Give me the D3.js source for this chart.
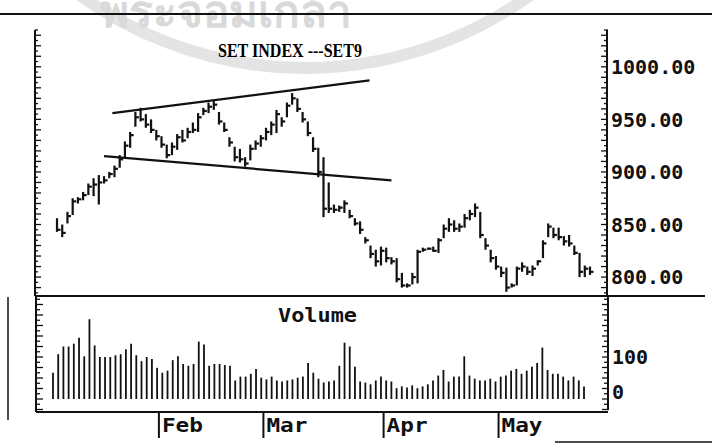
<!DOCTYPE html>
<meta charset="utf-8">
<head>
    <script type="text/javascript" src="https://cdn.jsdelivr.net/npm/d3@7"></script>
    <style>
        body { margin: 0; background: #fff; }
        .mono { font-family: "DejaVu Sans Mono", monospace; font-weight: bold; fill: #111; }
    </style>
    <title>SET INDEX ---SET9</title>
</head>
<body>
<script type="text/javascript">

    // daily bars, Jan..May
    var highs = [856,850,862,875,876,881,889,894,897,896,
                 900,906,916,929,938,957,961,955,950,940,
                 934,926,928,936,940,942,947,956,961,966,
                 968,957,947,933,924,922,914,926,930,935,
                 942,948,959,952,966,975,970,957,948,933,
                 923,914,890,869,868,873,864,856,853,838,
                 830,826,829,828,819,818,804,794,804,826,
                 828,828,829,837,850,856,854,851,860,864,
                 870,862,837,826,820,810,809,794,810,814,
                 810,811,816,835,851,847,847,839,840,830,
                 823,811,810];
    var lows = [843,838,851,859,870,873,878,877,869,889,
                894,895,904,914,923,943,948,942,937,930,
                923,913,916,921,928,932,937,938,954,956,
                959,945,938,924,910,909,905,911,921,924,
                930,935,937,943,952,964,957,947,934,919,
                895,857,861,861,862,861,856,849,841,832,
                818,810,811,814,812,795,790,790,793,794,
                824,826,824,823,837,843,843,843,847,854,
                857,837,826,814,807,800,786,790,792,805,
                802,801,811,818,838,837,835,830,829,821,
                800,800,802];
    var closes = [845,842,858,872,874,878,886,888,890,892,
                  898,903,912,925,935,952,950,945,940,934,
                  926,916,924,933,930,938,940,952,958,962,
                  964,948,940,928,914,912,908,922,927,932,
                  938,945,955,948,963,970,960,950,937,922,
                  900,865,865,864,866,870,858,851,845,835,
                  822,815,825,818,815,798,792,792,800,824,
                  826,827,825,835,846,850,846,848,856,860,
                  866,840,830,818,810,804,790,792,808,810,
                  805,808,815,832,848,840,838,834,832,823,
                  805,808,805];
    var volumes = [75,128,150,150,158,175,122,228,153,120,
                   120,120,125,128,142,158,125,108,120,114,
                   89,75,81,111,122,100,95,100,164,156,
                   95,100,100,97,95,53,64,64,72,86,
                   61,56,64,53,50,53,56,61,64,103,
                   75,58,47,50,53,95,161,150,92,50,
                   47,42,53,64,53,50,31,36,33,39,
                   31,36,42,53,67,83,50,64,64,122,
                   67,58,53,53,58,50,64,67,81,86,
                   72,81,92,103,147,83,72,72,64,53,
                   64,53,36];

    var monthNames = ["Feb", "Mar", "Apr", "May"];
    var monthStarts = [20, 40, 63, 85];   // index of first bar in month

    var priceTicks = [800, 850, 900, 950, 1000];
    var volTicks = [0, 100];

    // hand drawn trend lines: [bar index, price]
    var upperLine = [[10.6, 956], [59.8, 987]];
    var lowerLine = [[9, 915], [64, 892]];

    var w = 712;
    var h = 443;

    var svg = d3.select("body")
                .append("svg")
                .attr("width", w)
                .attr("height", h)
                .style("background", "#fff");

    // faint watermark seal of the scanned page
    var wm = svg.append("g");
    wm.append("circle")
      .attr("cx", 305).attr("cy", -316).attr("r", 384)
      .attr("fill", "none").attr("stroke", "#e4e4e4").attr("stroke-width", 12);
    wm.append("text")
      .attr("x", 100).attr("y", 27)
      .attr("font-family", "Noto Sans, sans-serif")
      .attr("font-size", 44)
      .attr("font-weight", "bold")
      .attr("fill", "#d9d9d9")
      .text("พระจอมเกล้า");

    // scales
    var n = closes.length;
    var x = d3.scaleLinear().domain([0, n - 1]).range([57, 590]);
    var xv = d3.scaleLinear().domain([0, n - 1]).range([53, 584]);
    var y = d3.scaleLinear().domain([782, 1035]).range([296, 30]);
    var yv = d3.scaleLinear().domain([0, 100]).range([399, 364]);

    var frame = svg.append("g").attr("stroke", "#111").attr("fill", "none");

    // page rules
    frame.append("line").attr("x1", 0).attr("x2", w).attr("y1", 14).attr("y2", 14).attr("stroke-width", 2);
    frame.append("line").attr("x1", 555).attr("x2", w).attr("y1", 442).attr("y2", 442).attr("stroke-width", 1.5);
    frame.append("line").attr("x1", 8).attr("x2", 8).attr("y1", 297).attr("y2", 420).attr("stroke-width", 1.5);

    // price panel frame
    frame.append("line").attr("x1", 35).attr("x2", 35).attr("y1", 30).attr("y2", 296).attr("stroke-width", 2);
    frame.append("line").attr("x1", 607).attr("x2", 607).attr("y1", 30).attr("y2", 296).attr("stroke-width", 2);
    frame.append("line").attr("x1", 35).attr("x2", 705).attr("y1", 296).attr("y2", 296).attr("stroke-width", 2);

    // volume panel frame
    frame.append("line").attr("x1", 36).attr("x2", 36).attr("y1", 296).attr("y2", 412).attr("stroke-width", 2);
    frame.append("line").attr("x1", 608).attr("x2", 608).attr("y1", 296).attr("y2", 410).attr("stroke-width", 2);
    frame.append("line").attr("x1", 36).attr("x2", 608).attr("y1", 412).attr("y2", 412).attr("stroke-width", 2);

    // minor ticks on price axes
    var pMinor = d3.range(785, 1036, 5);
    frame.selectAll(".ptl").data(pMinor).enter().append("line")
         .attr("x1", 35).attr("x2", function(d){ return d % 10 === 0 ? 41 : 38; })
         .attr("y1", y).attr("y2", y).attr("stroke-width", 1.3);
    frame.selectAll(".ptr").data(pMinor).enter().append("line")
         .attr("x1", function(d){ return d % 10 === 0 ? 601 : 604; }).attr("x2", 608)
         .attr("y1", y).attr("y2", y).attr("stroke-width", 1.3);

    // minor ticks on volume axes
    var vMinor = d3.range(-30, 291, 15);
    frame.selectAll(".vtl").data(vMinor).enter().append("line")
         .attr("x1", 36).attr("x2", function(d, i){ return i % 2 ? 40 : 43; })
         .attr("y1", yv).attr("y2", yv).attr("stroke-width", 1.3);
    frame.selectAll(".vtr").data(vMinor).enter().append("line")
         .attr("x1", function(d, i){ return i % 2 ? 604 : 602; }).attr("x2", 609)
         .attr("y1", yv).attr("y2", yv).attr("stroke-width", 1.3);

    // title
    svg.append("text")
       .attr("x", 218).attr("y", 57)
       .attr("font-family", "Liberation Serif, serif")
       .attr("font-weight", "bold")
       .attr("font-size", 18)
       .attr("textLength", 144)
       .attr("lengthAdjust", "spacingAndGlyphs")
       .text("SET INDEX ---SET9");

    // price bars
    var bars = closes.map(function(c, i){ return {i: i, h: highs[i], l: lows[i], c: c}; });

    svg.append("g").selectAll("line").data(bars).enter().append("line")
       .attr("x1", function(d){ return x(d.i); })
       .attr("x2", function(d){ return x(d.i); })
       .attr("y1", function(d){ return y(d.h); })
       .attr("y2", function(d){ return y(d.l); })
       .attr("stroke", "#111").attr("stroke-width", 2.2);

    svg.append("g").selectAll("line").data(bars).enter().append("line")
       .attr("x1", function(d){ return x(d.i); })
       .attr("x2", function(d){ return x(d.i) + 3.5; })
       .attr("y1", function(d){ return y(d.c); })
       .attr("y2", function(d){ return y(d.c); })
       .attr("stroke", "#111").attr("stroke-width", 2.2);

    // trend lines
    var trend = d3.line().x(function(d){ return x(d[0]); }).y(function(d){ return y(d[1]); });
    svg.selectAll(".trend").data([upperLine, lowerLine]).enter().append("path")
       .attr("d", trend)
       .attr("fill", "none").attr("stroke", "#111").attr("stroke-width", 2.2);

    // price labels
    svg.selectAll(".plab").data(priceTicks).enter().append("text")
       .attr("class", "mono")
       .attr("x", 611).attr("y", y)
       .attr("dy", "0.36em")
       .attr("font-size", 20)
       .text(function(d){ return d.toFixed(2); });

    // volume bars
    svg.append("g").selectAll("line").data(volumes).enter().append("line")
       .attr("x1", function(d, i){ return xv(i); })
       .attr("x2", function(d, i){ return xv(i); })
       .attr("y1", yv(0))
       .attr("y2", function(d){ return yv(d); })
       .attr("stroke", "#111").attr("stroke-width", 1.8);

    svg.append("text")
       .attr("class", "mono")
       .attr("x", 278).attr("y", 322)
       .attr("font-size", 20)
       .attr("textLength", 79)
       .attr("lengthAdjust", "spacingAndGlyphs")
       .text("Volume");

    svg.selectAll(".vlab").data(volTicks).enter().append("text")
       .attr("class", "mono")
       .attr("x", 612).attr("y", function(d){ return yv(d) - 7; })
       .attr("dy", "0.36em")
       .attr("font-size", 20)
       .text(function(d){ return d; });

    // month separators and labels
    var months = svg.append("g");
    months.selectAll("line").data(monthStarts).enter().append("line")
          .attr("x1", function(d){ return x(d - 0.5); })
          .attr("x2", function(d){ return x(d - 0.5); })
          .attr("y1", 412).attr("y2", 438)
          .attr("stroke", "#111").attr("stroke-width", 2);
    months.selectAll("text").data(monthStarts).enter().append("text")
          .attr("class", "mono")
          .attr("x", function(d){ return x(d - 0.5) + 3; })
          .attr("y", 432)
          .attr("font-size", 19)
          .attr("textLength", 41)
          .attr("lengthAdjust", "spacingAndGlyphs")
          .text(function(d, i){ return monthNames[i]; });

</script>
</body>
